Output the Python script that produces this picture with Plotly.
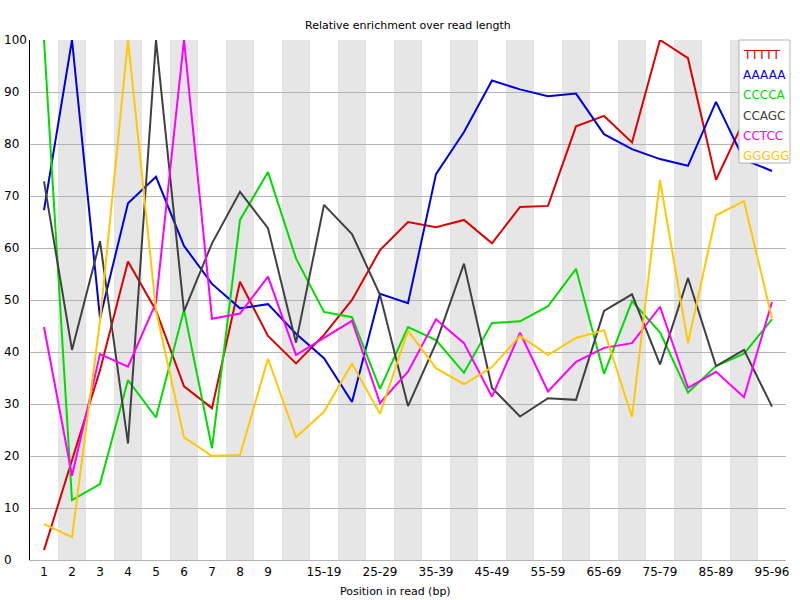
import plotly.graph_objects as go

categories = ["1", "2", "3", "4", "5", "6", "7", "8", "9",
              "10-14", "15-19", "20-24", "25-29", "30-34", "35-39", "40-44",
              "45-49", "50-54", "55-59", "60-64", "65-69", "70-74", "75-79",
              "80-84", "85-89", "90-94", "95-96"]

ttttt = [1.9, 19.0, 36.5, 57.4, 48.0, 33.4, 29.2, 53.5, 43.1, 37.8, 43.3, 50.0, 59.6,
         65.0, 64.0, 65.4, 60.9, 67.9, 68.1, 83.4, 85.4, 80.3, 100.0, 96.5, 73.1, 84.5, 84.0]
aaaaa = [67.3, 100.0, 46.5, 68.6, 73.7, 60.4, 53.1, 48.4, 49.2, 43.5, 38.8, 30.4, 51.2,
         49.4, 74.2, 82.3, 92.2, 90.5, 89.2, 89.7, 81.9, 79.0, 77.1, 75.8, 88.1, 77.0, 74.8]
cccca = [100.0, 11.5, 14.6, 34.6, 27.4, 48.1, 21.5, 65.4, 74.6, 58.0, 47.7, 46.7, 32.9,
         44.8, 42.3, 36.0, 45.6, 45.9, 48.8, 56.0, 35.8, 49.8, 43.8, 32.2, 37.3, 39.7, 46.3]
ccagc = [72.8, 40.4, 61.3, 22.4, 100.0, 47.8, 60.9, 70.8, 63.8, 41.8, 68.3, 62.7, 51.0,
         29.6, 41.7, 57.0, 33.1, 27.6, 31.1, 30.8, 47.9, 51.1, 37.6, 54.2, 37.3, 40.4, 29.5]
cctcc = [44.8, 16.2, 39.6, 37.2, 49.5, 100.0, 46.4, 47.4, 54.5, 39.4, 42.7, 46.0, 30.2,
         36.2, 46.3, 41.7, 31.4, 43.7, 32.4, 38.1, 40.8, 41.7, 48.7, 33.1, 36.2, 31.3, 49.6]
ggggg = [6.9, 4.4, 46.0, 100.0, 48.0, 23.6, 20.0, 20.2, 38.7, 23.6, 28.5, 37.8, 28.1,
         44.1, 36.9, 33.8, 37.1, 43.1, 39.4, 42.7, 44.2, 27.5, 73.1, 41.7, 66.3, 69.0, 46.5]

series_names = ["TTTTT", "AAAAA", "CCCCA", "CCAGC", "CCTCC", "GGGGG"]
series_values = [ttttt, aaaaa, cccca, ccagc, cctcc, ggggg]
series_colors = ["rgb(220,0,0)", "rgb(0,0,220)", "rgb(0,220,0)",
                 "rgb(64,64,64)", "rgb(255,0,255)", "rgb(255,200,0)"]

y_ticks = list(range(0, 101, 10))

title_text = "Relative enrichment over read length"
xlabel_text = "Position in read (bp)"

W, H = 800, 600
L, R, T, B = 30, 14, 40, 40
pw, ph = W - L - R, H - T - B


def px(x):
    return (x - L) / pw


def py(y):
    return (H - B - y) / ph


xs = list(range(len(categories)))
fig = go.Figure()

for name, vals, col in zip(series_names, series_values, series_colors):
    fig.add_trace(go.Scatter(x=xs, y=vals, mode="lines", name=name,
                             line=dict(color=col, width=2), showlegend=False,
                             hoverinfo="skip"))

shapes = []
for i in range(len(categories)):
    if i % 2 == 1:
        shapes.append(dict(type="rect", xref="x", yref="paper", x0=i - 0.5, x1=i + 0.5,
                           y0=0, y1=1, fillcolor="rgb(230,230,230)", line=dict(width=0),
                           layer="below"))
# legend box
shapes.append(dict(type="rect", xref="paper", yref="paper", x0=px(739), x1=px(790),
                   y0=py(163), y1=py(40), fillcolor="white",
                   line=dict(color="rgb(180,180,180)", width=1), layer="above"))

annotations = [
    dict(text=title_text, xref="paper", yref="paper", x=0.5, y=py(25),
         xanchor="center", yanchor="middle", showarrow=False,
         font=dict(family="DejaVu Sans", size=11, color="black")),
    dict(text=xlabel_text, xref="paper", yref="paper", x=px(395), y=py(591),
         xanchor="center", yanchor="middle", showarrow=False,
         font=dict(family="DejaVu Sans", size=11, color="black")),
]
# left-aligned y tick labels (as in the reference)
for v in y_ticks:
    annotations.append(dict(text=str(v), xref="paper", yref="y", x=px(2), y=v,
                            xanchor="left", yanchor="middle", showarrow=False,
                            font=dict(family="DejaVu Sans", size=12, color="black")))
legend_y = [55, 75, 95, 116, 136, 156]
for name, col, ly in zip(series_names, series_colors, legend_y):
    annotations.append(dict(text=name, xref="paper", yref="paper", x=px(741), y=py(ly),
                            xanchor="left", yanchor="middle", showarrow=False,
                            font=dict(family="DejaVu Sans", size=12, color=col)))

tickvals = [i for i in xs if i < 9 or (i - 9) % 2 == 1]
ticktext = [categories[i] for i in tickvals]

fig.update_layout(
    width=W, height=H,
    margin=dict(l=L, r=R, t=T, b=B, pad=0),
    paper_bgcolor="white", plot_bgcolor="white",
    font=dict(family="DejaVu Sans", size=12, color="black"),
    shapes=shapes, annotations=annotations,
    xaxis=dict(range=[-0.5, len(categories) - 0.5], tickmode="array",
               tickvals=tickvals, ticktext=ticktext, showgrid=False,
               zeroline=False, showline=True, linecolor="rgb(180,180,180)",
               linewidth=1, ticks="", ticklabelstandoff=1, automargin=False),
    yaxis=dict(range=[0, 100], tickmode="array", tickvals=y_ticks,
               showticklabels=False,
               showgrid=True, gridcolor="rgb(180,180,180)", gridwidth=1,
               zeroline=False, showline=True, linecolor="black", linewidth=1,
               ticks="", automargin=False),
    hovermode=False,
)

fig.write_html("out.html")
